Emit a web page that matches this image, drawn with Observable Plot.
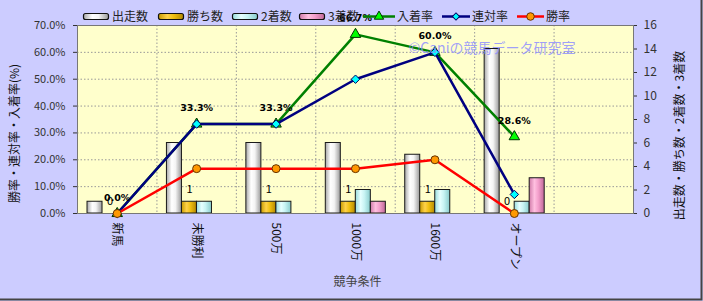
<!DOCTYPE html>
<html>
<head>
<meta charset="utf-8">
<script src="https://cdn.jsdelivr.net/npm/d3@7"></script>
<script src="https://cdn.jsdelivr.net/npm/@observablehq/plot@0.6"></script>
<style>
  html, body { margin: 0; padding: 0; background: #ccccff; }
  #chart svg { display: block; }
</style>
</head>
<body>
<div id="chart"></div>
<script>
// ---- data ----
const categories = ["新馬", "未勝利", "500万", "1000万", "1600万", "オープン"];
const slotCount = 7;
const starts = [1, 6, 6, 6, 5, 14];
const wins = [0, 1, 1, 1, 1, 0];
const seconds = [0, 1, 1, 2, 2, 1];
const thirds = [0, 0, 0, 1, 0, 3];
const winRate = [0, 16.7, 16.7, 16.7, 20.0, 0];
const rentaiRate = [0, 33.3, 33.3, 50.0, 60.0, 7.1];
const placeRate = [0, 33.3, 33.3, 66.7, 60.0, 28.6];
const leftTicks = [0, 10, 20, 30, 40, 50, 60, 70];
const rightTicks = [0, 2, 4, 6, 8, 10, 12, 14, 16];
const barSeries = ["出走数", "勝ち数", "2着数", "3着数"];
const lineSeries = ["入着率", "連対率", "勝率"];
const leftTitle = "勝率・連対率・入着率(%)";
const rightTitle = "出走数・勝ち数・2着数・3着数";
const xTitle = "競争条件";
const watermark = "©Caniの競馬データ研究室";

// ---- derived ----
const k = 70 / 16; // count -> percent axis
const idx = categories.map((_, i) => i);
const barValues = [starts, wins, seconds, thirds];
const grads = ["gW", "gG", "gC", "gP"];
const off = 0.126, bw = 0.189;
function barRows(j) {
  return idx.filter(i => barValues[j][i] > 0).map(i => ({
    x1: i + off + j * bw, x2: i + off + (j + 1) * bw, y: barValues[j][i] * k
  }));
}
const fontCJK = "'Noto Sans CJK JP', 'Noto Sans', sans-serif";

const cx = i => i + 0.5;

const plot = Plot.plot({
  width: 703,
  height: 301,
  marginLeft: 77,
  marginRight: 70,
  marginTop: 25,
  marginBottom: 88,
  style: { background: "#ccccff", fontFamily: fontCJK, fontSize: "11px", color: "#333" },
  x: { domain: [0, slotCount], axis: null },
  y: { domain: [0, 70], axis: null },
  marks: [
    Plot.frame({ fill: "#ffffcc" }),
    Plot.gridY({ ticks: leftTicks.slice(1, -1), stroke: "#999", strokeOpacity: 1, strokeDasharray: "1.5,2" }),
    Plot.gridX({ ticks: d3.range(1, slotCount), stroke: "#999", strokeOpacity: 1, strokeDasharray: "1.5,2" }),
    ...barValues.map((_, j) => Plot.rectY(barRows(j), {
      x1: "x1", x2: "x2", y: "y", fill: `url(#${grads[j]})`, stroke: "#1a1a1a", strokeWidth: 1
    })),
    Plot.frame({ stroke: "#777" }),
    Plot.axisY({ anchor: "left", ticks: leftTicks, tickFormat: d => d.toFixed(1) + "%", tickSize: 4, tickPadding: 8, label: null, fill: "#333" }),
    Plot.axisY({ anchor: "right", ticks: rightTicks.map(c => c * k), tickFormat: d => String(Math.round(d / k)), tickSize: 3, tickPadding: 7, label: null, fill: "#333", fontSize: 12 }),
    Plot.axisX({ ticks: idx.map(cx), tickFormat: d => categories[Math.round(d - 0.5)], tickRotate: 90, tickSize: 0, tickPadding: 9, label: null, fontSize: 12, fill: "#111" }),
    // lines
    Plot.line(idx, { x: cx, y: i => placeRate[i], stroke: "#008000", strokeWidth: 2.5 }),
    Plot.dot(idx, { x: cx, y: i => placeRate[i], symbol: "triangle", r: 3.9, fill: "#00ff00", stroke: "#003300", strokeWidth: 1 }),
    Plot.line(idx, { x: cx, y: i => rentaiRate[i], stroke: "#000080", strokeWidth: 2.5 }),
    Plot.dot(idx, { x: cx, y: i => rentaiRate[i], symbol: "diamond2", r: 3.8, fill: "#00ffff", stroke: "#000060", strokeWidth: 1 }),
    Plot.line(idx, { x: cx, y: i => winRate[i], stroke: "#ff0000", strokeWidth: 2.5 }),
    Plot.dot(idx, { x: cx, y: i => winRate[i], r: 4, fill: "#ff9900", stroke: "#663300", strokeWidth: 1 }),
    // labels
    Plot.text(idx, { x: cx, y: i => placeRate[i], text: i => placeRate[i].toFixed(1) + "%", dy: -16, fontWeight: "bold", fontSize: 9.5, fill: "#000", fontFamily: "'DejaVu Sans', sans-serif" }),
    Plot.text(idx, { x: i => i + off + 1.5 * bw, y: i => wins[i] * k, text: i => String(wins[i]), dy: -12, fontSize: 11, fill: "#000" }),
    // watermark
    Plot.text([watermark], { frameAnchor: "top-right", text: d => d, dx: -58, dy: 18, textAnchor: "end", fontSize: 14, fill: "#8f8fff", fillOpacity: 0.85 }),
    // titles
    Plot.text([leftTitle], { frameAnchor: "left", text: d => d, rotate: -90, textAnchor: "middle", dx: -62, dy: 14, fontSize: 12, fill: "#111" }),
    Plot.text([rightTitle], { frameAnchor: "right", text: d => d, rotate: -90, textAnchor: "middle", dx: 47, dy: 16, fontSize: 12, fill: "#111" }),
    Plot.text([xTitle], { frameAnchor: "bottom", text: d => d, textAnchor: "middle", dx: 2, dy: 72, fontSize: 12, fill: "#444" })
  ]
});

document.getElementById("chart").appendChild(plot);

// gradients for cylinder-like bars
const svg = d3.select(plot);
const defs = svg.insert("defs", ":first-child");
const gradSpec = {
  gW: ["#a8a8a8", "#ffffff", "#f4f4f4", "#9a9a9a"],
  gG: ["#c89a00", "#ffd24a", "#f0bf10", "#b38800"],
  gC: ["#98dcdc", "#e6ffff", "#c8f4f4", "#88cccc"],
  gP: ["#d07aa8", "#ffc0e0", "#f4a0cc", "#c06898"]
};
for (const [id, c] of Object.entries(gradSpec)) {
  const g = defs.append("linearGradient").attr("id", id).attr("x1", "0").attr("x2", "1").attr("y1", "0").attr("y2", "0");
  g.append("stop").attr("offset", "0%").attr("stop-color", c[0]);
  g.append("stop").attr("offset", "35%").attr("stop-color", c[1]);
  g.append("stop").attr("offset", "60%").attr("stop-color", c[2]);
  g.append("stop").attr("offset", "100%").attr("stop-color", c[3]);
}

// legend (top)
const lg = svg.append("g").attr("font-family", fontCJK).attr("font-size", 12).attr("fill", "#222").attr("text-anchor", "start");
const barLegX = [83, 158, 232, 299];
barSeries.forEach((name, j) => {
  lg.append("rect").attr("x", barLegX[j] + 0.5).attr("y", 13.5).attr("width", 25).attr("height", 6)
    .attr("rx", 2).attr("fill", `url(#${grads[j]})`).attr("stroke", "#111").attr("stroke-width", 1.2);
  lg.append("text").attr("x", barLegX[j] + 29).attr("y", 21).attr("text-anchor", "start").text(name);
});
const lineLeg = [
  { x: 363, w: 32, color: "#008000", sym: d3.symbolTriangle, fill: "#00ff00", stroke: "#003300", size: 38 },
  { x: 442, w: 28, color: "#000080", sym: d3.symbolSquare, fill: "#00ffff", stroke: "#000060", size: 26, rot: 45 },
  { x: 517, w: 27, color: "#ff0000", sym: d3.symbolCircle, fill: "#ff9900", stroke: "#663300", size: 45 }
];
lineSeries.forEach((name, j) => {
  const L = lineLeg[j];
  lg.append("line").attr("x1", L.x).attr("x2", L.x + L.w).attr("y1", 16.5).attr("y2", 16.5)
    .attr("stroke", L.color).attr("stroke-width", 2.5);
  lg.append("path").attr("d", d3.symbol(L.sym, L.size)())
    .attr("transform", `translate(${L.x + L.w / 2},16.5) rotate(${L.rot || 0})`)
    .attr("fill", L.fill).attr("stroke", L.stroke).attr("stroke-width", 1);
  lg.append("text").attr("x", L.x + L.w + 2).attr("y", 21).attr("text-anchor", "start").text(name);
});

// outer shadow border (right and bottom)
svg.append("path").attr("d", "M701.5,0 V299.5 H0").attr("fill", "none").attr("stroke", "#444").attr("stroke-width", 2);
</script>
</body>
</html>
